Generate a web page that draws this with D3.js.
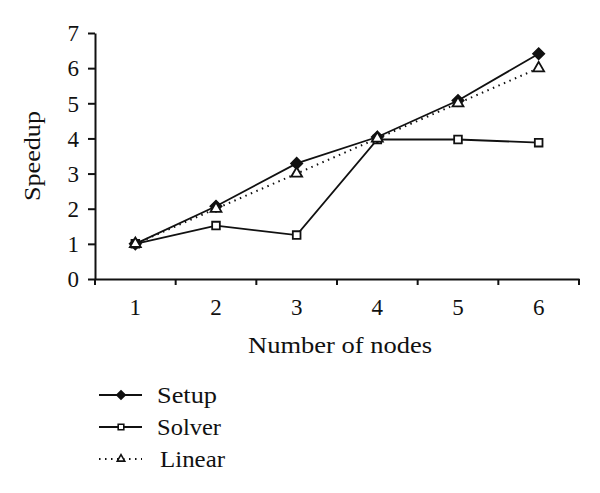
<!DOCTYPE html>
<html><head><meta charset="utf-8">
<script src="https://cdn.jsdelivr.net/npm/d3@7"></script>
<style>body{margin:0;background:#fff}svg text{font-family:"Liberation Serif","DejaVu Serif",serif;fill:#111}</style>
</head><body><svg id="c" width="600" height="493"></svg>
<script>
const categories = ["1","2","3","4","5","6"];
const setup = [1.0, 2.07, 3.29, 4.04, 5.08, 6.41];
const solver = [1.0, 1.52, 1.25, 3.97, 3.97, 3.88];
const linear = [1, 2, 3, 4, 5, 6];
const yTicks = [0,1,2,3,4,5,6,7];
const seriesNames = ["Setup","Solver","Linear"];

const svg = d3.select("#c");
const x = d3.scaleBand().domain(categories).range([95, 579]);
const y = d3.scaleLinear().domain([0, 7]).range([279, 33]);
const ink = "#111";
const FS = 23;

// axes
const yAxis = svg.append("g").attr("transform","translate(95,0)")
  .call(d3.axisLeft(y).tickValues(yTicks).tickFormat(d3.format("d")).tickSize(7).tickSizeOuter(0).tickPadding(9));
const xAxis = svg.append("g").attr("transform","translate(0,279)")
  .call(d3.axisBottom(x).tickSize(0).tickPadding(20));
[yAxis, xAxis].forEach(a=>{
  a.attr("font-size",FS).attr("font-family",null);
  a.selectAll("path").attr("stroke",ink).attr("stroke-width",2);
  a.selectAll("line").attr("stroke",ink).attr("stroke-width",2);
  a.selectAll("text").attr("font-size",FS).attr("fill",ink);
});
yAxis.selectAll("text").attr("dy","0.34em");
// band boundary ticks on x axis
const bounds = categories.map(c=>x(c)).concat([x.range()[1]]);
xAxis.selectAll("line.b").data(bounds).enter().append("line").attr("class","b")
  .attr("x1",d=>d).attr("x2",d=>d).attr("y1",0).attr("y2",6)
  .attr("stroke",ink).attr("stroke-width",2);

// titles
svg.append("text").attr("transform","translate(40,156) rotate(-90)").attr("text-anchor","middle")
  .attr("font-size",FS+1).attr("textLength",90).attr("lengthAdjust","spacingAndGlyphs").text("Speedup");
svg.append("text").attr("x",340).attr("y",353).attr("text-anchor","middle")
  .attr("font-size",FS+1).attr("textLength",184).attr("lengthAdjust","spacingAndGlyphs").text("Number of nodes");

const cx = d => x(d) + x.bandwidth()/2;
const line = d3.line().x((d,i)=>cx(categories[i])).y(d=>y(d));

// lines
svg.append("path").datum(linear).attr("d",line).attr("fill","none").attr("stroke",ink)
  .attr("stroke-width",2).attr("stroke-dasharray","1.5,4.5");
svg.append("path").datum(solver).attr("d",line).attr("fill","none").attr("stroke",ink).attr("stroke-width",1.8);
svg.append("path").datum(setup).attr("d",line).attr("fill","none").attr("stroke",ink).attr("stroke-width",1.8);

function markers(data, sym, fill){
  svg.append("g").selectAll("path").data(data).enter().append("path")
    .attr("d", sym)
    .attr("transform",(d,i)=>`translate(${cx(categories[i])},${y(d)})`)
    .attr("fill",fill).attr("stroke",ink).attr("stroke-width",fill==="#fff"?1.8:1.5);
}
markers(solver, d3.symbol().type(d3.symbolSquare2).size(75), "#fff");
markers(setup, d3.symbol().type(d3.symbolDiamond2).size(85), ink);
markers(linear, d3.symbol().type(d3.symbolTriangle2).size(85), "#fff");

// legend
const legY = [395, 427, 459];
const legW = [60, 64, 65];
const leg = svg.append("g");
seriesNames.forEach((n,i)=>{
  const g = leg.append("g").attr("transform",`translate(0,${legY[i]})`);
  g.append("line").attr("x1",99).attr("x2",142).attr("y1",0).attr("y2",0)
    .attr("stroke",ink).attr("stroke-width", i===2?2:1.8)
    .attr("stroke-dasharray", i===2?"1.5,4.5":null);
  const sym = i===0 ? d3.symbol().type(d3.symbolDiamond2).size(45)
            : i===1 ? d3.symbol().type(d3.symbolSquare2).size(40)
            : d3.symbol().type(d3.symbolTriangle2).size(40);
  g.append("path").attr("d",sym).attr("transform","translate(121,0)")
    .attr("fill", i===0?ink:"#fff").attr("stroke",ink).attr("stroke-width",1.6);
  g.append("text").attr("x",i===2?160:157).attr("y",7.5).attr("font-size",FS)
    .attr("textLength",legW[i]).attr("lengthAdjust","spacingAndGlyphs").text(n);
});
</script></body></html>
